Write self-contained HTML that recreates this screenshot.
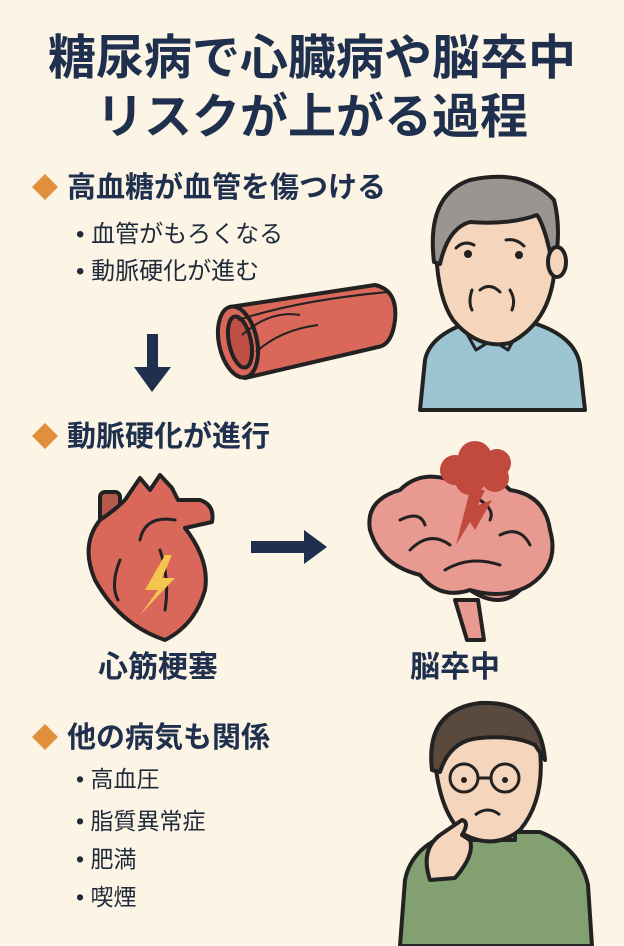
<!DOCTYPE html>
<html><head><meta charset="utf-8"><style>
html,body{margin:0;padding:0;background:#fcf4e4;}
svg{display:block}
text{font-family:"Liberation Sans","Noto Sans CJK JP",sans-serif;fill:#1f2f4e;font-weight:bold}
.b{font-weight:normal;fill:#1f2a3a}
</style></head><body>
<svg width="624" height="946" viewBox="0 0 624 946" xmlns="http://www.w3.org/2000/svg">
<rect width="624" height="946" fill="#fcf4e4"/>
<text x="312" y="74" font-size="48" text-anchor="middle">糖尿病で心臓病や脳卒中</text>
<text x="312" y="133" font-size="48" text-anchor="middle">リスクが上がる過程</text>

<polygon points="45,174 58,187 45,200 32,187" fill="#e0903c"/>
<text x="67" y="197" font-size="29">高血糖が血管を傷つける</text>
<text x="76" y="242" font-size="24" class="b">• 血管がもろくなる</text>
<text x="76" y="279" font-size="24" class="b">• 動脈硬化が進む</text>

<rect x="147" y="334" width="11" height="35" fill="#1f2f4e"/>
<polygon points="134,367 171,367 152,392" fill="#1f2f4e"/>

<!-- vessel -->
<g stroke="#222" stroke-width="4" stroke-linejoin="round">
<path d="M230,307 L375,285 Q398,290 395,320 Q392,345 378,347 L245,378 Z" fill="#d9675a"/>
<ellipse cx="238" cy="342" rx="19" ry="36" fill="#d9675a" transform="rotate(-12 238 342)"/>
<ellipse cx="240" cy="342" rx="11" ry="26" fill="#c04f45" transform="rotate(-12 240 342)"/>
<path d="M242,335 Q270,310 300,315 M256,352 Q280,330 318,325 M238,320 Q300,300 388,292" fill="none" stroke-width="2"/>
</g>

<!-- man 1 -->
<g stroke="#222" stroke-width="4" stroke-linejoin="round">
<path d="M420,410 L425,360 Q430,335 470,322 L530,322 Q575,335 580,365 L585,410 Z" fill="#9cc4d2"/>
<path d="M462,325 L476,350 L492,340 L508,350 L522,325 Z" fill="#9cc4d2" stroke-width="3"/>
<path d="M470,300 L470,335 L520,335 L520,300 Z" fill="#f3d2b4"/>
<path d="M436,240 Q432,200 470,185 Q520,170 552,200 Q560,215 555,260 Q554,320 510,343 Q478,350 453,320 Q436,295 436,240 Z" fill="#f5d5bb"/>
<path d="M434,262 Q426,195 470,180 Q525,168 554,200 Q562,230 554,268 L547,240 Q542,222 537,215 Q510,225 470,222 Q448,228 440,264 Z" fill="#9a9590"/>
<ellipse cx="557" cy="262" rx="9" ry="15" fill="#f5d5bb"/>
</g>
<g stroke="#222" stroke-width="3" fill="none" stroke-linecap="round">
<path d="M456,248 Q464,240 474,245 M506,240 Q516,238 524,246"/>
<path d="M480,290 Q490,282 500,292 M472,290 Q468,302 472,310 M510,290 Q516,300 512,310"/>
</g>
<circle cx="468" cy="254" r="4" fill="#222"/><circle cx="519" cy="255" r="4" fill="#222"/>

<polygon points="45,423 58,436 45,449 32,436" fill="#e0903c"/>
<text x="67" y="446" font-size="29">動脈硬化が進行</text>

<!-- heart -->
<g stroke="#222" stroke-width="4" stroke-linejoin="round">
<rect x="100" y="492" width="20" height="52" rx="5" fill="#b75a4e"/>
<path d="M125,500 L140,478 L150,490 L160,475 L172,488 L178,500 L200,500 Q215,505 212,522 L185,528 Q210,560 205,590 Q195,625 165,640 Q120,625 95,580 Q80,545 100,520 Q115,510 125,500 Z" fill="#d9675a"/>
</g>
<g stroke="#222" stroke-width="3" fill="none" stroke-linecap="round">
<path d="M140,540 Q145,515 175,520 M160,550 Q170,580 165,610 M120,560 Q110,585 118,600"/>
</g>
<polygon points="165,555 145,590 158,590 140,615 175,578 162,578 172,555" fill="#f4c64e"/>

<rect x="251" y="541" width="55" height="12" fill="#1f2f4e"/>
<polygon points="304,530 327,547 304,564" fill="#1f2f4e"/>

<!-- brain -->
<g stroke="#222" stroke-width="4" stroke-linejoin="round">
<path d="M455,600 L467,640 L484,640 L478,600 Z" fill="#e99a90"/>
<path d="M470,590 Q500,610 520,590 Q530,575 520,565 L470,570 Z" fill="#e99a90"/>
<path d="M400,490 Q420,470 450,480 Q480,460 510,490 Q545,495 550,530 Q560,565 530,585 Q505,600 470,590 Q440,600 420,575 Q380,565 370,530 Q365,500 400,490 Z" fill="#e99a90"/>
</g>
<g stroke="#222" stroke-width="3" fill="none" stroke-linecap="round">
<path d="M400,520 Q420,510 425,525 M410,550 Q430,530 450,545 M445,570 Q470,555 500,565 M500,535 Q520,525 530,545 M480,500 Q495,510 490,520"/>
</g>
<g fill="#c2493d">
<circle cx="455" cy="470" r="15"/><circle cx="475" cy="458" r="17"/><circle cx="497" cy="463" r="14"/><circle cx="470" cy="480" r="15"/><circle cx="495" cy="478" r="14"/>
</g>
<polygon points="470,490 456,545 470,522 475,530 492,500 478,505 485,490" fill="#c2493d"/>

<text x="158" y="677" font-size="30" text-anchor="middle">心筋梗塞</text>
<text x="455" y="677" font-size="30" text-anchor="middle">脳卒中</text>

<polygon points="45,724 58,737 45,750 32,737" fill="#e0903c"/>
<text x="67" y="747" font-size="29">他の病気も関係</text>
<text x="76" y="787" font-size="23" class="b">• 高血圧</text>
<text x="76" y="829" font-size="23" class="b">• 脂質異常症</text>
<text x="76" y="867" font-size="23" class="b">• 肥満</text>
<text x="76" y="905" font-size="23" class="b">• 喫煙</text>

<!-- man 2 -->
<g stroke="#222" stroke-width="4" stroke-linejoin="round">
<path d="M400,946 L405,880 Q412,845 455,832 L540,832 Q580,848 588,885 L592,946 Z" fill="#83a070"/>
<path d="M470,800 L470,840 L515,840 L515,800 Z" fill="#f3d2b4"/>
<path d="M435,760 Q432,715 478,708 Q530,705 540,750 Q545,800 520,830 Q495,850 465,835 Q440,815 435,760 Z" fill="#f5d5bb"/>
<path d="M432,770 Q425,710 480,703 Q540,700 545,760 L535,745 Q515,735 480,738 Q450,740 440,772 Z" fill="#5a4a3e"/>
<path d="M430,880 Q420,850 440,835 L462,820 Q470,822 462,835 L470,840 Q475,855 455,878 Z" fill="#f5d5bb"/>
</g>
<g stroke="#222" stroke-width="3" fill="none">
<circle cx="464" cy="778" r="14"/><circle cx="505" cy="778" r="14"/><path d="M478,778 L491,778"/>
<path d="M475,815 Q488,805 500,815"/>
</g>
<circle cx="464" cy="780" r="3" fill="#222"/><circle cx="505" cy="780" r="3" fill="#222"/>
</svg>
</body></html>
